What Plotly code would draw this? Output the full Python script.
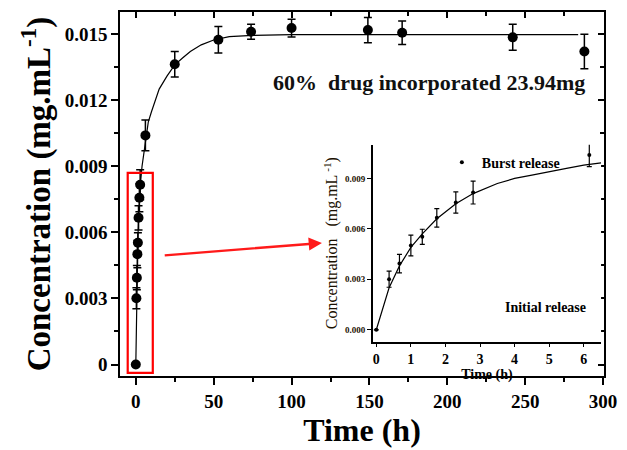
import plotly.graph_objects as go

# ---------------- data ----------------
t_burst = [0, 0.37, 0.67, 1.0, 1.33, 1.75, 2.3, 2.8, 6.16]
c_burst = [0.0, 0.00301, 0.00394, 0.00501, 0.00553, 0.00666, 0.00757, 0.00816, 0.0104]
e_burst = [0.0, 0.00048, 0.00055, 0.00062, 0.00045, 0.00055, 0.00063, 0.00068, 0.0007]

t_late = [25, 53, 74, 100, 149, 171, 242, 288]
c_late = [0.01363, 0.01474, 0.0151, 0.01527, 0.01518, 0.01506, 0.01485, 0.01421]
e_late = [0.00058, 0.0006, 0.00034, 0.0004, 0.00057, 0.00053, 0.00059, 0.00078]

fit_t_main = [0, 0.37, 0.67, 1, 1.33, 1.75, 2.3, 2.8, 4, 6.2, 8, 10, 15, 20, 25, 30, 35,
              42, 50, 60, 75, 100, 150, 200, 250, 284]
fit_c_main = [0, 0.0025, 0.0038, 0.0049, 0.0057, 0.0066, 0.0075, 0.0081, 0.0090, 0.0100,
              0.0110, 0.01146, 0.0125, 0.01309, 0.0136, 0.01391, 0.01421, 0.01451, 0.01473,
              0.01488, 0.01494, 0.01497, 0.01497, 0.01497, 0.01497, 0.01497]

fit_t_inset = [0, 0.2, 0.37, 0.67, 1, 1.33, 1.75, 2.3, 2.8, 3.5, 4, 4.5, 5, 5.5, 6, 6.5]
fit_c_inset = [0, 0.0014, 0.0025, 0.0038, 0.0049, 0.0057, 0.0066, 0.0075, 0.0081, 0.0087,
               0.0090, 0.0092, 0.00938, 0.0096, 0.00979, 0.00993]

main_yticks = [0, 0.003, 0.006, 0.009, 0.012, 0.015]
main_yticktext = ["0", "0.003", "0.006", "0.009", "0.012", "0.015"]
inset_yticks = [0, 0.003, 0.006, 0.009]
inset_yticktext = ["0.000", "0.003", "0.006", "0.009"]

SERIF = "Liberation Serif, Times New Roman, serif"
BLACK = "#000000"

fig = go.Figure()

# main fit curve
fig.add_trace(go.Scatter(x=fit_t_main, y=fit_c_main, mode="lines",
                         line=dict(color=BLACK, width=1.2), showlegend=False,
                         xaxis="x", yaxis="y", hoverinfo="skip"))
# main data
fig.add_trace(go.Scatter(x=t_burst + t_late, y=c_burst + c_late, mode="markers",
                         marker=dict(color=BLACK, size=10, symbol="circle"),
                         error_y=dict(type="data", array=e_burst + e_late, color=BLACK,
                                      thickness=1.5, width=4),
                         showlegend=False, xaxis="x", yaxis="y"))

# inset fit curve
fig.add_trace(go.Scatter(x=fit_t_inset, y=fit_c_inset, mode="lines",
                         line=dict(color=BLACK, width=1.2), showlegend=False,
                         xaxis="x2", yaxis="y2", hoverinfo="skip"))
# inset data
fig.add_trace(go.Scatter(x=t_burst, y=c_burst, mode="markers", name="Burst release",
                         marker=dict(color=BLACK, size=4, symbol="circle"),
                         error_y=dict(type="data", array=e_burst, color=BLACK,
                                      thickness=1.2, width=2.5),
                         showlegend=True, xaxis="x2", yaxis="y2"))

# dummy trace for inner mirrored ticks
fig.add_trace(go.Scatter(x=[], y=[], xaxis="x3", yaxis="y3", showlegend=False,
                         hoverinfo="skip"))

XR = [-10.15, 300.6]
YR = [-0.00052, 0.016]

tickfont_main = dict(family=SERIF, size=19, color=BLACK, weight="bold")

fig.update_layout(
    width=627, height=450,
    margin=dict(l=120, r=17, t=10, b=70),
    paper_bgcolor="white", plot_bgcolor="white",
    xaxis=dict(range=XR, tickvals=[0, 50, 100, 150, 200, 250, 300],
               ticks="outside", ticklen=7, tickwidth=1.5, tickcolor=BLACK,
               minor=dict(tickvals=[25, 75, 125, 175, 225, 275], ticks="outside",
                          ticklen=4, tickwidth=1.5, tickcolor=BLACK),
               showline=True, linecolor=BLACK, linewidth=1.5, mirror=True,
               showgrid=False, zeroline=False, tickfont=tickfont_main,
               title=dict(text="Time (h)", font=dict(family=SERIF, size=32, color=BLACK,
                                                     weight="bold"), standoff=6),
               domain=[0, 1]),
    yaxis=dict(range=YR, tickvals=main_yticks, ticktext=main_yticktext,
               ticks="outside", ticklen=7, tickwidth=1.5, tickcolor=BLACK,
               minor=dict(tickvals=[0.0015, 0.0045, 0.0075, 0.0105, 0.0135], ticks="outside",
                          ticklen=4, tickwidth=1.5, tickcolor=BLACK),
               showline=True, linecolor=BLACK, linewidth=1.5, mirror=True,
               showgrid=False, zeroline=False, tickfont=tickfont_main,
               title=dict(text="Concentration (mg.mL<sup>-1</sup>)",
                          font=dict(family=SERIF, size=33, color=BLACK, weight="bold"),
                          standoff=4),
               domain=[0, 1]),
    xaxis3=dict(range=XR, overlaying="x", anchor="y", side="top",
                tickvals=[0, 50, 100, 150, 200, 250, 300],
                ticks="inside", ticklen=6, tickwidth=1.5, tickcolor=BLACK,
                minor=dict(tickvals=[25, 75, 125, 175, 225, 275], ticks="inside",
                           ticklen=4, tickwidth=1.5, tickcolor=BLACK),
                showticklabels=False, showline=False, showgrid=False, zeroline=False),
    yaxis3=dict(range=YR, overlaying="y", anchor="x", side="right",
                tickvals=main_yticks, ticks="inside", ticklen=6, tickwidth=1.5,
                tickcolor=BLACK,
                minor=dict(tickvals=[0.0015, 0.0045, 0.0075, 0.0105, 0.0135], ticks="inside",
                           ticklen=4, tickwidth=1.5, tickcolor=BLACK),
                showticklabels=False, showline=False, showgrid=False, zeroline=False),
    xaxis2=dict(domain=[0.5224, 0.9939], anchor="y2", range=[-0.1, 6.5],
                tickvals=[0, 1, 2, 3, 4, 5, 6], ticks="outside", ticklen=4, tickwidth=1.2,
                tickcolor=BLACK, showline=True, linecolor=BLACK, linewidth=1.5,
                mirror=False, showgrid=False, zeroline=False,
                tickfont=dict(family=SERIF, size=14, color=BLACK, weight="bold"),
                title=dict(text="Time (h)", font=dict(family=SERIF, size=14, color=BLACK,
                                                      weight="bold"), standoff=0)),
    yaxis2=dict(domain=[0.0946, 0.6351], anchor="x2", range=[-0.0007, 0.011],
                tickvals=inset_yticks, ticktext=inset_yticktext,
                ticks="outside", ticklen=4, tickwidth=1.2, tickcolor=BLACK,
                showline=True, linecolor=BLACK, linewidth=1.5, mirror=False,
                showgrid=False, zeroline=False,
                tickfont=dict(family=SERIF, size=9, color="#1a1000", weight="bold"),
                title=dict(text="Concentration   (mg.mL<sup> -1</sup>)",
                           font=dict(family=SERIF, size=16, color="#1a1000"), standoff=3)),
    legend=dict(x=0.665, y=0.586, xanchor="left", yanchor="middle",
                bgcolor="rgba(0,0,0,0)", borderwidth=0,
                font=dict(family=SERIF, size=14, color=BLACK, weight="bold"),
                itemwidth=30),
    showlegend=True,
)

# red box around the burst region
fig.add_shape(type="rect", xref="x", yref="y", x0=-5.2, x1=10.9, y0=-0.00038, y1=0.0087,
              line=dict(color="#ff0000", width=2.2), fillcolor="rgba(0,0,0,0)")

# red arrow
fig.add_annotation(xref="x", yref="y", axref="x", ayref="y",
                   x=119.5, y=0.00552, ax=17.6, ay=0.00495,
                   showarrow=True, arrowhead=2, arrowsize=1.1, arrowwidth=2.4,
                   arrowcolor="#ff1a1a", text="")

# texts
fig.add_annotation(xref="x", yref="y", x=188, y=0.0128,
                   text="60%  drug incorporated 23.94mg", showarrow=False,
                   font=dict(family=SERIF, size=22, color="#111111", weight="bold"))
fig.add_annotation(xref="x2", yref="y2", x=4.9, y=0.0013,
                   text="Initial release", showarrow=False,
                   font=dict(family=SERIF, size=14, color=BLACK, weight="bold"))

fig.write_html("out.html")
